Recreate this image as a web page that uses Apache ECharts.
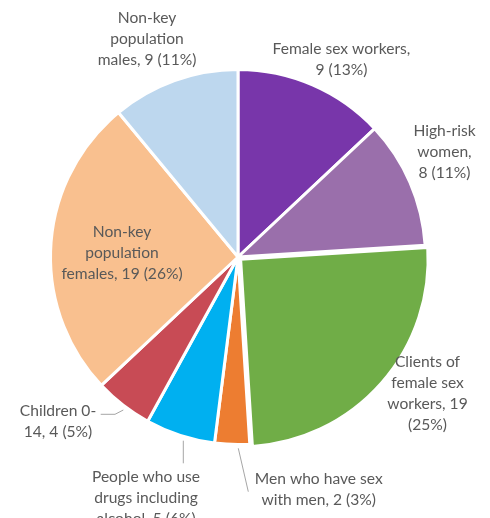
<!DOCTYPE html>
<html>
<head>
<meta charset="utf-8">
<script src="https://cdn.jsdelivr.net/npm/echarts@6/dist/echarts.min.js"></script>
<style>
  html, body { margin: 0; padding: 0; background: #ffffff; }
  #chart { width: 490px; height: 518px; }
</style>
</head>
<body>
<div id="chart"></div>
<script>
// Population groups, counts and their share of the total (%)
const categories = [
  'Female sex workers',
  'High-risk women',
  'Clients of female sex workers',
  'Men who have sex with men',
  'People who use drugs including alcohol',
  'Children 0-14',
  'Non-key population females',
  'Non-key population males'
];
const counts = [9, 8, 19, 2, 5, 4, 19, 9];
const shares = [13, 11, 25, 3, 6, 5, 26, 11];

// Where each label wraps onto a new line (break after these fragments)
const lineBreaks = [
  ['workers,'],
  ['High-risk', 'women,'],
  ['Clients of', 'female sex', 'workers, 19'],
  ['have sex'],
  ['who use', 'including'],
  ['Children 0-'],
  ['Non-key', 'population'],
  ['Non-key', 'population']
];

const sliceColors = ['#7836AA', '#9A6FAB', '#70AD47', '#ED7D31', '#00B0F0', '#C84B55', '#F9C08F', '#BDD7EE'];

// Pie geometry and label placement (offsets from the pie centre, px)
const pieCenter = [238, 257];
const pieRadius = 187.5;
const labelOffsets = [
  [103.5, -198], [206.5, -105.5], [184.5, 144.5], [80.7, 232.5],
  [-92, 240.5], [-180, 164.5], [-116, -4.3], [-91, -218.5]
];
const leaderLines = [
  null, null, null,
  [[0.3, 191.3], [10.3, 234.7]],
  [[-54.7, 183.7], [-54.7, 206.3]],
  [[-114.7, 153], [-123, 157.3], [-137.3, 157.3]],
  null, null
];
const explodedIndex = 2;

function wrapLabel(text, marks) {
  const lines = [];
  let rest = text;
  marks.forEach(function (m) {
    const k = rest.indexOf(m);
    if (k < 0) return;
    lines.push(rest.slice(0, k + m.length).trim());
    rest = rest.slice(k + m.length).trim();
  });
  lines.push(rest);
  return lines.join('\n');
}

const pieData = categories.map(function (name, i) {
  const item = {
    name: name,
    value: shares[i],
    itemStyle: { color: sliceColors[i] },
    labelLine: { show: !!leaderLines[i] }
  };
  if (i === explodedIndex) {
    item.selected = true;
    item.select = { itemStyle: { color: sliceColors[i], borderColor: '#ffffff', borderWidth: 3 } };
  }
  return item;
});

const chart = echarts.init(document.getElementById('chart'), null, { renderer: 'canvas' });
chart.setOption({
  animation: false,
  backgroundColor: '#ffffff',
  series: [{
    type: 'pie',
    center: pieCenter,
    radius: pieRadius,
    startAngle: 90,
    clockwise: true,
    avoidLabelOverlap: false,
    selectedMode: 'single',
    selectedOffset: 3.5,
    emphasis: { disabled: true },
    itemStyle: { borderColor: '#ffffff', borderWidth: 3 },
    label: {
      show: true,
      position: 'outside',
      color: '#595959',
      fontFamily: 'Lato',
      fontSize: 15.6,
      lineHeight: 21,
      align: 'center',
      formatter: function (p) {
        const i = p.dataIndex;
        return wrapLabel(categories[i] + ', ' + counts[i] + ' (' + shares[i] + '%)', lineBreaks[i]);
      }
    },
    labelLine: {
      show: true,
      smooth: false,
      lineStyle: { color: '#A6A6A6', width: 1 }
    },
    labelLayout: function (p) {
      const i = p.dataIndex;
      const off = labelOffsets[i];
      const out = {
        x: pieCenter[0] + off[0],
        y: pieCenter[1] + off[1],
        align: 'center',
        verticalAlign: 'middle'
      };
      if (leaderLines[i]) {
        out.labelLinePoints = leaderLines[i].map(function (pt) {
          return [pieCenter[0] + pt[0], pieCenter[1] + pt[1]];
        });
      }
      return out;
    },
    data: pieData
  }]
});
</script>
</body>
</html>
